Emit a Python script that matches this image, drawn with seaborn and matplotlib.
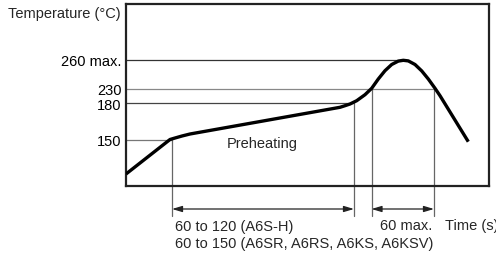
import matplotlib
matplotlib.use("Agg")
import matplotlib.pyplot as plt
import seaborn as sns
import pandas as pd

sns.set_style("white")
plt.rcParams['font.family'] = ['Liberation Sans', 'DejaVu Sans']

# Schematic reflow profile (schematic time units / schematic temperature positions)
profile_time = [0, 44, 48, 56, 64, 214, 219, 224, 230.7, 239, 245.7, 252.3, 259, 265.7,
                272.3, 277.3, 282.3, 289, 295.7, 302.3, 309, 314, 342.3]
profile_level = [12.3, 46.8, 48.0, 50.3, 52.3, 79.0, 80.6, 82.3, 85.6, 91.6, 98.0, 107.3,
                 115.6, 121.8, 125.2, 126.0, 125.4, 121.8, 115.4, 107.3, 98.0, 90.6, 44.6]

# Reference temperature levels and tick labels
level_pos = [126.6, 97.6, 83.3, 46.6]
level_labels = ["260 max.", "230", "180", "150"]
level_end = [279, 307, 227, 46]
level_colors = ["#333333", "#888888", "#444444", "#777777"]

# Time markers
marker_time = [46, 228, 245.5, 308]
marker_top = [46.6, 83.3, 97.6, 97.6]

df = pd.DataFrame({"time": profile_time, "level": profile_level})

W, H = 496, 255
fig = plt.figure(figsize=(W / 100, H / 100), dpi=100)
ax = fig.add_axes([126 / W, (255 - 187.3) / H, (489 - 126) / W, (187.3 - 5.3) / H])
ax.set_xlim(0, 363)
ax.set_ylim(0, 182)

for y, xe, c in zip(level_pos, level_end, level_colors):
    ax.plot([0, xe], [y, y], color=c, lw=0.9, zorder=2)

for x, yt in zip(marker_time, marker_top):
    ax.plot([x, x], [yt, -29.7], color="#666666", lw=0.9, clip_on=False, zorder=2)

sns.lineplot(data=df, x="time", y="level", sort=False, estimator=None,
             color="black", lw=2.4, ax=ax, zorder=3)
curve = ax.lines[-1]
curve.set_solid_joinstyle("round")
curve.set_solid_capstyle("butt")

arrow_kw = dict(arrowstyle="<|-|>,head_length=0.6,head_width=0.18", color="#222222", lw=0.9,
                shrinkA=0, shrinkB=0)
ax.annotate("", xy=(marker_time[0], -22.7), xytext=(marker_time[1], -22.7),
            arrowprops=arrow_kw, annotation_clip=False)
ax.annotate("", xy=(marker_time[2], -22.7), xytext=(marker_time[3], -22.7),
            arrowprops=arrow_kw, annotation_clip=False)

ax.set_yticks(level_pos)
ax.set_yticklabels(level_labels)
ax.set_xticks([])
ax.tick_params(axis="y", length=0, pad=3, labelsize=10.5, colors="black")
ax.set_xlabel("")
ax.set_ylabel("")

for s in ax.spines.values():
    s.set_linewidth(1.6)
    s.set_color("#222222")

fs = 10.5
ax.text(-5, 173.3, "Temperature (°C)", ha="right", va="center", fontsize=fs, clip_on=False)
ax.text(101, 43.3, "Preheating", ha="left", va="center", fontsize=fs)
ax.text(49, -39.7, "60 to 120 (A6S-H)", ha="left", va="center", fontsize=fs, clip_on=False)
ax.text(49, -56.7, "60 to 150 (A6SR, A6RS, A6KS, A6KSV)", ha="left", va="center", fontsize=fs, clip_on=False)
ax.text(254, -38.4, "60 max.", ha="left", va="center", fontsize=fs, clip_on=False)
ax.text(319, -38.7, "Time (s)", ha="left", va="center", fontsize=fs, clip_on=False)

fig.savefig("out.png", dpi=100)
